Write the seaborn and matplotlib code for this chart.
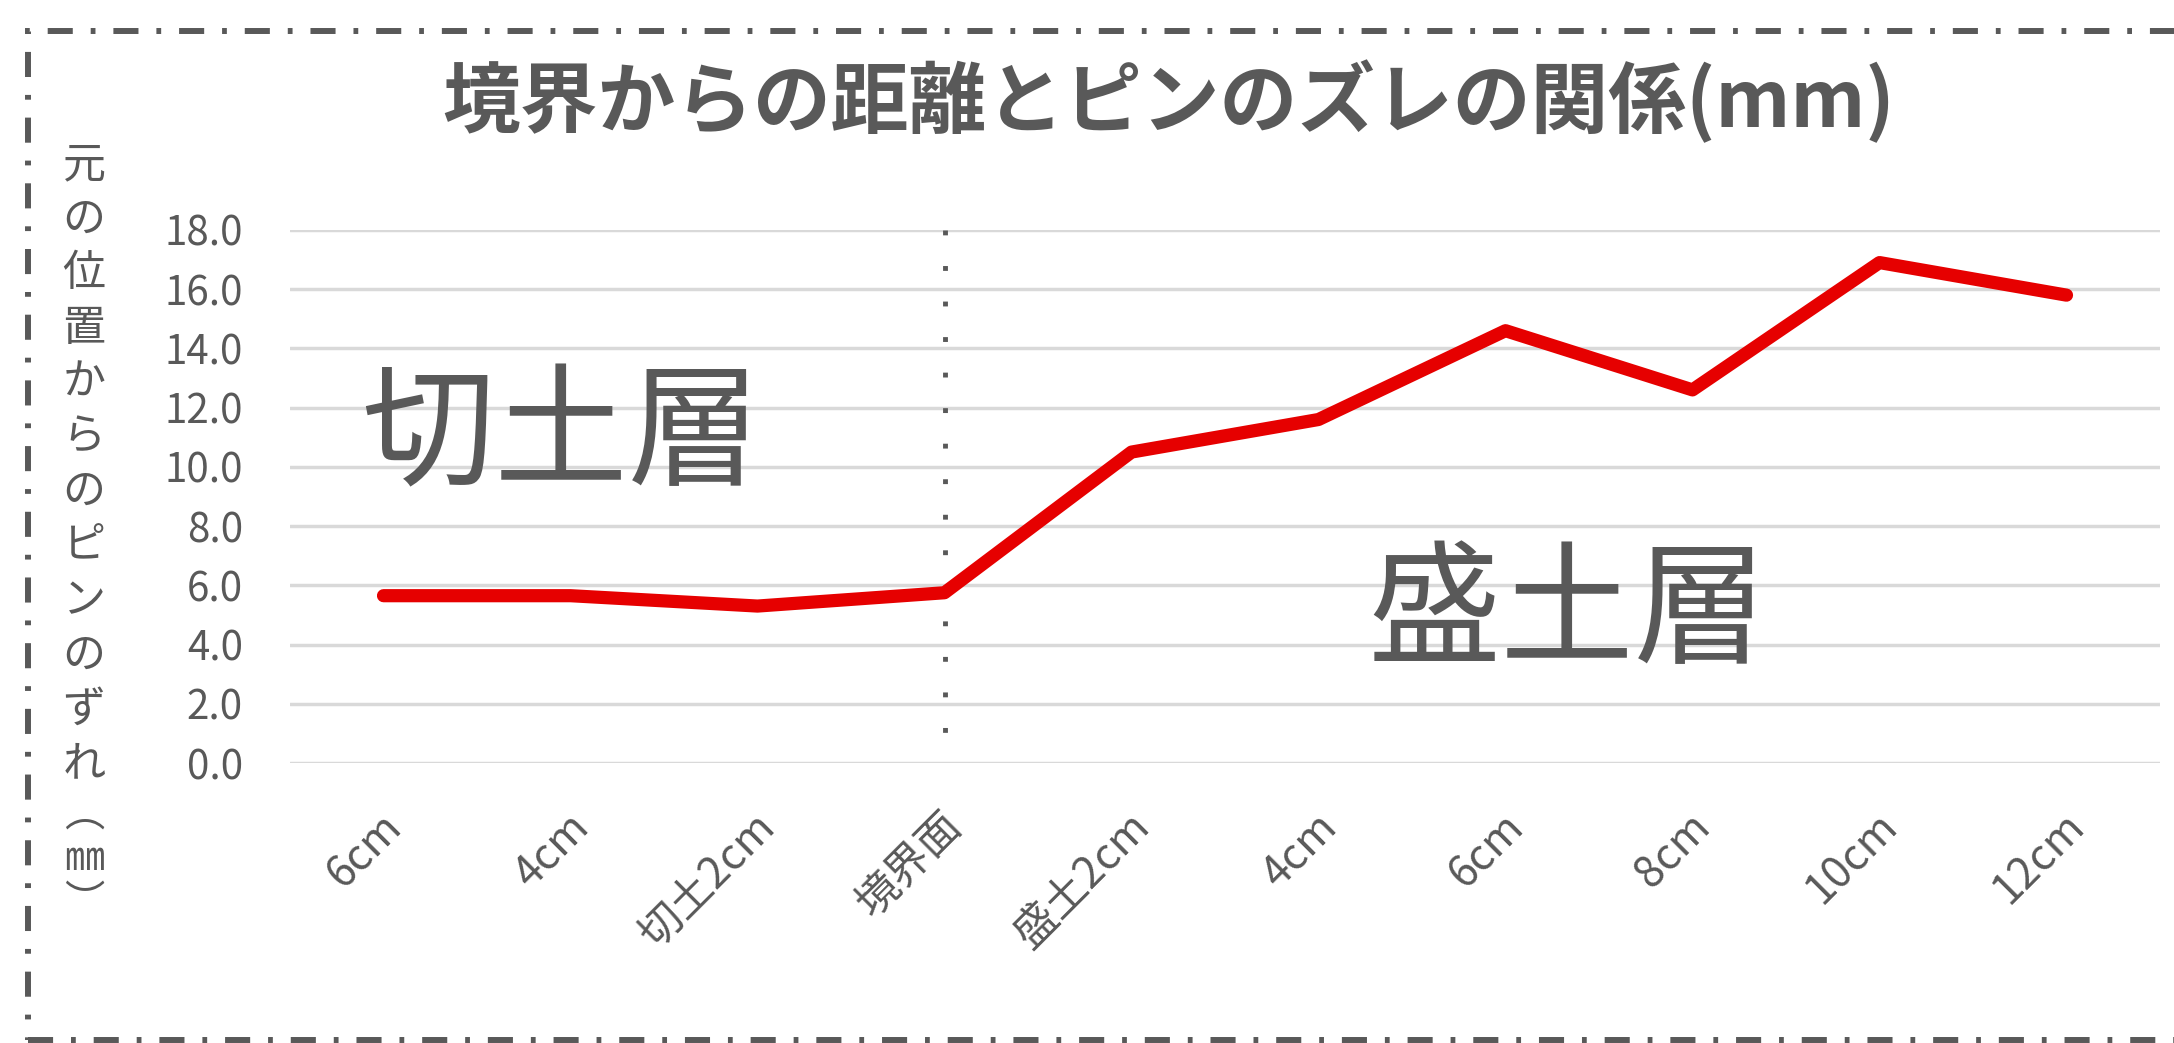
import numpy as np
import pandas as pd
import matplotlib
matplotlib.use("Agg")
import matplotlib.pyplot as plt
import matplotlib.transforms as mtransforms
from matplotlib.patches import Rectangle
import seaborn as sns

# ---- data ----
categories = ["6cm", "4cm", "切土2cm", "境界面", "盛土2cm", "4cm", "6cm", "8cm", "10cm", "12cm"]
displacement = [5.65, 5.65, 5.3, 5.75, 10.5, 11.6, 14.6, 12.6, 16.9, 15.8]
y_ticks = [0, 2, 4, 6, 8, 10, 12, 14, 16, 18]
boundary_label = "境界面"
title = "境界からの距離とピンのズレの関係(mm)"
ylabel_chars = list("元の位置からのピンのずれ")
ylabel_tail = "︵\n㎜\n︶"
zone_cut = "切土層"
zone_fill = "盛土層"

sns.set_theme(style="white")
plt.rcParams['font.family'] = ['Noto Sans CJK JP', 'DejaVu Sans']

GRAY = "#595959"
W, H = 2174, 1043
fig = plt.figure(figsize=(W / 100, H / 100), dpi=100)
fig.patch.set_facecolor("white")

ax = fig.add_axes([290 / W, 1 - 763 / H, 1870 / W, 533 / H])

df = pd.DataFrame({"pos": np.arange(len(categories)), "value": displacement})
sns.lineplot(data=df, x="pos", y="value", ax=ax, color="#E60000", linewidth=9.5,
             solid_capstyle="round", solid_joinstyle="round", zorder=3)

ax.set_xlim(-0.5, len(categories) - 0.5)
ax.set_ylim(0, 18)
ax.set_yticks(y_ticks)
ax.set_yticklabels([f"{v:.1f}" for v in y_ticks], fontsize=29, color=GRAY)
ax.yaxis.grid(True, color="#D9D9D9", linewidth=2.5)
ax.xaxis.grid(False)
ax.set_axisbelow(True)
for s in ax.spines.values():
    s.set_visible(False)
ax.tick_params(axis="y", length=0, pad=34)
ax.tick_params(axis="x", length=0, pad=30)
ax.set_xlabel("")
ax.set_ylabel("")

ax.set_xticks(np.arange(len(categories)))
ax.set_xticklabels(categories, rotation=45, ha="right", va="top",
                   rotation_mode="anchor", fontsize=31, color=GRAY)
offset = mtransforms.ScaledTranslation(-4 / 100, 0, fig.dpi_scale_trans)
for lab in ax.get_xticklabels():
    lab.set_transform(lab.get_transform() + offset)

# boundary dotted line (drawn top-down so dots sit on both end gridlines)
bidx = categories.index(boundary_label)
ax.plot([bidx, bidx], [ax.get_ylim()[1], ax.get_ylim()[0]], color=GRAY,
        linewidth=3.5, linestyle=(0, (1, 6.31)), zorder=1)

# zone labels
ax.text(0.95, 11.0, zone_cut, fontsize=96, color=GRAY, ha="center", va="center")
ax.text(6.33, 5.0, zone_fill, fontsize=96, color=GRAY, ha="center", va="center")

# title
fig.text(1169 / W, 1 - 102 / H, title, fontsize=56, fontweight="bold",
         color=GRAY, ha="center", va="center")

# vertical y label
x_lab = 84 / W
for i, ch in enumerate(ylabel_chars):
    fig.text(x_lab, 1 - (165 + i * 54.5) / H, ch, fontsize=31, color=GRAY,
             ha="center", va="center")
fig.text(x_lab, 1 - 858 / H, ylabel_tail, fontsize=29, color=GRAY,
         ha="center", va="center", linespacing=1.1)

# dash-dot border
border = Rectangle((28 / W, 1 - 1040 / H), (2200 - 28) / W, (1040 - 31) / H,
                   transform=fig.transFigure, fill=False, edgecolor=GRAY,
                   linewidth=4.3, linestyle=(0, (4.2, 3, 0.8, 3)), capstyle="butt")
fig.patches.append(border)

fig.savefig("out.png", dpi=100, facecolor="white")
